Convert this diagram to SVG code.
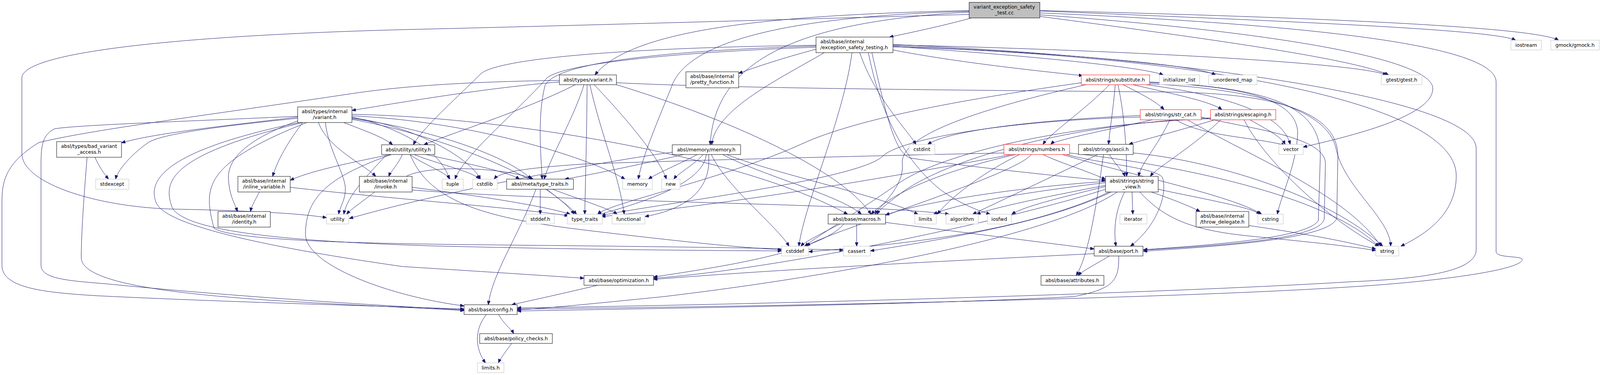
<svg xmlns="http://www.w3.org/2000/svg" width="4101" height="961" viewBox="0 0 4101 961">
<style>
rect{fill:#fff;stroke:#000;stroke-width:1}
rect.g{stroke:#bfbfbf}
rect.r{stroke:#ff0000}
rect.root{fill:#bfbfbf}
text{font-family:"DejaVu Sans","Liberation Sans",sans-serif;font-size:12.6px;fill:#000;text-anchor:middle}
text.l{text-anchor:start}
#edges path{fill:none;stroke:#191970;stroke-width:1;marker-end:url(#ah)}
</style>
<defs>
<marker id="ah" markerUnits="userSpaceOnUse" markerWidth="10" markerHeight="8" refX="10" refY="4" orient="auto">
<path d="M0,0 L10,4 L0,8 z" fill="#191970" stroke="#191970"/>
</marker>
</defs>
<rect x="0" y="0" width="4101" height="961" style="fill:#fff;stroke:none"/>
<g id="edges">
<path d="M2487,46 C2430,62 2340,82 2277,95"/>
<path d="M2481,27 C2000,38 1620,70 1523,192"/>
<path d="M2481,31 C2050,55 1830,150 1818,371"/>
<path d="M2481,29 C2000,42 1760,110 1720,220 C1680,320 1645,400 1634,459"/>
<path d="M2481,37 C2000,50 1500,65 1030,76 C500,90 56,130 56,200 L56,393 C56,470 250,532 450,536 C650,540 780,548 836,558"/>
<path d="M2662,38 C3250,80 3668,150 3668,227 C3668,300 3450,350 3336,377"/>
<path d="M2662,28 C3300,55 3820,75 3880,103"/>
<path d="M2662,27 C3400,45 3930,70 3990,103"/>
<path d="M2662,42 C3100,100 3460,150 3555,192"/>
<path d="M2662,33 C3400,65 3830,120 3830,210 L3830,645 C3830,662 3897,655 3897,665 C3897,690 3700,720 3460,735 C3000,765 2000,785 1324,792"/>
<path d="M2089,126 C2000,150 1940,170 1891,188"/>
<path d="M2110,135 C2000,200 1830,280 1822,371"/>
<path d="M2089,118 C1700,130 1420,160 1395,220 C1375,300 1385,400 1388,459"/>
<path d="M2089,116 C1600,122 1270,150 1230,190 C1170,250 1080,330 1058,371"/>
<path d="M2089,121 C1700,135 1440,165 1400,200 C1320,290 1185,400 1165,459"/>
<path d="M2181,135 C2160,300 2060,520 2045,631"/>
<path d="M2201,135 C2240,250 2320,330 2345,370"/>
<path d="M2223,135 C2260,320 2330,420 2400,480 C2450,520 2505,540 2535,549"/>
<path d="M2232,135 C2270,300 2290,390 2330,405 C2500,430 2700,450 2830,463"/>
<path d="M2286,128 C2450,160 2660,182 2772,194"/>
<path d="M2286,119 C2600,140 2920,170 2978,192"/>
<path d="M2286,117 C2700,135 3060,165 3112,192"/>
<path d="M2286,115 C2850,128 3470,160 3550,192"/>
<path d="M2286,120 C3000,140 3728,250 3728,450 C3728,550 3650,600 3586,631"/>
<path d="M2286,114 C3000,145 3779,250 3779,380 L3779,640 C3779,700 3620,715 3460,722 C3000,750 2000,780 1324,789"/>
<path d="M1432,210 C1250,225 1040,260 901,283"/>
<path d="M1473,217 C1350,280 1160,340 1085,371"/>
<path d="M1495,217 C1470,300 1410,400 1393,459"/>
<path d="M1503,217 C1502,350 1499,450 1497,549"/>
<path d="M1510,217 C1540,350 1585,450 1598,549"/>
<path d="M1521,217 C1600,300 1685,400 1706,459"/>
<path d="M1578,217 C1850,300 2150,430 2230,549"/>
<path d="M1578,212 C1900,228 2600,232 3000,236 C3300,240 3425,300 3425,400 L3422,560 C3400,615 3100,632 2927,644"/>
<path d="M1432,206 C1150,210 1000,225 900,240 C500,300 250,330 100,365 C10,420 5,470 5,520 L5,680 C5,740 120,750 250,758 C600,775 1000,785 1188,792"/>
<path d="M762,300 C600,320 400,340 311,366"/>
<path d="M762,303 C600,320 420,340 380,365 C330,400 300,440 296,459"/>
<path d="M775,314 C740,360 710,410 698,452"/>
<path d="M815,314 C840,380 930,420 962,452"/>
<path d="M880,314 C920,330 980,350 1005,371"/>
<path d="M762,310 C650,350 580,400 585,460 C587,500 600,520 608,542"/>
<path d="M833,314 C840,380 880,440 884,480 C886,510 870,530 867,549"/>
<path d="M901,300 C1000,320 1130,380 1150,459"/>
<path d="M901,302 C1050,320 1200,400 1230,459"/>
<path d="M901,304 C1100,330 1300,400 1360,459"/>
<path d="M901,306 C1100,340 1400,450 1470,549"/>
<path d="M901,297 C1200,310 1500,400 1600,459"/>
<path d="M901,293 C1300,300 1900,400 2170,549"/>
<path d="M766,314 C400,390 380,470 400,520 C430,590 800,650 1030,683 C1300,700 1450,710 1495,713"/>
<path d="M775,314 C420,400 420,470 440,530 C470,600 800,620 1100,630 C1500,640 1800,642 2001,643"/>
<path d="M785,314 C520,420 520,480 548,585 C600,620 1000,625 1300,628 C1700,632 2000,636 2159,641"/>
<path d="M762,298 C500,310 200,320 140,330 C110,345 105,370 105,420 L105,680 C105,720 200,720 300,730 C600,760 1000,785 1188,794"/>
<path d="M243,403 C255,430 270,450 278,459"/>
<path d="M223,403 C215,500 208,600 208,660 C208,720 400,750 700,770 C950,785 1100,790 1188,796"/>
<path d="M1000,396 C880,420 790,440 743,462"/>
<path d="M1030,396 C1020,420 1000,440 995,452"/>
<path d="M1050,396 C1080,420 1140,440 1152,459"/>
<path d="M1060,396 C1120,420 1210,440 1228,459"/>
<path d="M1090,396 C1200,420 1300,440 1330,459"/>
<path d="M990,396 C940,450 890,500 880,549"/>
<path d="M1002,396 C850,450 782,500 782,600 C782,680 1000,760 1188,784"/>
<path d="M1050,396 C1100,520 1250,560 1500,590 C1750,620 1900,635 2001,640"/>
<path d="M664,492 C655,510 645,525 641,542"/>
<path d="M743,480 C1000,510 1300,530 1455,553"/>
<path d="M959,492 C930,515 900,535 887,549"/>
<path d="M1055,480 C1250,505 1400,530 1460,549"/>
<path d="M1055,487 C1500,520 2200,520 2430,549"/>
<path d="M1040,452 C1100,420 1300,430 1365,459"/>
<path d="M1383,485 L1383,549"/>
<path d="M1400,485 C1430,510 1460,530 1476,549"/>
<path d="M1415,485 C1480,510 1560,535 1580,549"/>
<path d="M1372,485 C1330,600 1260,700 1250,781"/>
<path d="M1750,396 C1600,430 1500,450 1446,459"/>
<path d="M1785,396 C1740,420 1680,445 1660,459"/>
<path d="M1800,396 C1780,420 1735,445 1725,459"/>
<path d="M1808,396 C1800,480 1600,530 1530,551"/>
<path d="M1814,396 C1820,460 1790,530 1651,555"/>
<path d="M1821,396 C1860,480 1990,580 2020,631"/>
<path d="M1850,396 C1950,450 2150,500 2205,549"/>
<path d="M1860,396 C2000,450 2250,500 2350,549"/>
<path d="M1721,390 C1500,420 1100,500 894,560"/>
<path d="M2840,217 C2780,280 2690,340 2670,370"/>
<path d="M2855,217 C2850,280 2840,340 2838,370"/>
<path d="M2862,217 C2880,300 2885,400 2884,452"/>
<path d="M2875,217 C2920,240 2960,260 2980,281"/>
<path d="M2900,217 C3000,240 3100,260 3128,281"/>
<path d="M2935,217 C3100,240 3280,280 3303,370"/>
<path d="M2943,212 C3200,220 3320,260 3322,340 C3320,420 3280,500 3270,549"/>
<path d="M2943,215 C3250,230 3400,290 3420,380 C3440,480 3560,560 3560,631"/>
<path d="M2943,210 C3250,225 3380,270 3380,400 L3375,565 C3350,610 3100,628 2927,640"/>
<path d="M2768,212 C2500,250 2200,300 2050,370 C1850,460 1560,520 1530,549"/>
<path d="M2780,217 C2550,270 2300,340 2310,420 C2315,480 2250,530 2240,549"/>
<path d="M2950,307 C2800,340 2700,360 2690,370"/>
<path d="M2995,307 C2960,380 2920,420 2915,452"/>
<path d="M3010,307 C3080,350 3200,350 3290,372"/>
<path d="M3040,307 C3200,400 3450,500 3535,631"/>
<path d="M2919,296 C2600,310 2420,340 2375,370"/>
<path d="M2919,300 C2550,310 2300,360 2260,400 C2200,460 1700,520 1540,552"/>
<path d="M3075,300 C3200,330 3395,350 3393,420 L3390,560 C3385,615 3100,630 2927,641"/>
<path d="M3110,307 C3000,340 2920,360 2890,370"/>
<path d="M3125,307 C3050,380 2960,430 2945,452"/>
<path d="M3200,307 C3240,330 3280,350 3290,370"/>
<path d="M3185,307 C3230,400 3380,550 3530,631"/>
<path d="M3099,304 C2700,320 2400,400 2300,470 C2200,540 2100,600 2060,631"/>
<path d="M3099,302 C2700,320 2400,420 2300,500 C2260,530 2250,540 2245,549"/>
<path d="M2570,392 C2200,400 1800,410 1500,420 C1350,430 1280,440 1265,459"/>
<path d="M2600,396 C2450,430 2300,480 2230,549"/>
<path d="M2610,396 C2500,450 2420,520 2400,549"/>
<path d="M2670,396 C2720,420 2790,440 2830,460"/>
<path d="M2720,396 C2900,450 3150,500 3230,549"/>
<path d="M2738,392 C3000,420 3400,500 3530,632"/>
<path d="M2590,396 C2300,450 1900,520 1540,555"/>
<path d="M2640,396 C2600,450 2100,600 2065,631"/>
<path d="M2730,396 C2820,420 2960,430 2976,455 C2990,500 2960,580 2894,631"/>
<path d="M2810,396 C2700,450 2550,520 2490,549"/>
<path d="M2825,396 C2810,500 2790,650 2755,706"/>
<path d="M2840,396 C2855,420 2875,440 2880,452"/>
<path d="M2901,392 C3100,410 3400,500 3540,631"/>
<path d="M2830,475 C2700,500 2550,530 2500,549"/>
<path d="M2830,468 C2650,490 2450,520 2390,549"/>
<path d="M2830,465 C2600,480 2350,520 2267,551"/>
<path d="M2830,478 C2700,510 2620,530 2590,549"/>
<path d="M2845,492 C2700,560 2500,600 2228,643"/>
<path d="M2840,492 C2650,580 2400,620 2070,645"/>
<path d="M2830,485 C2600,560 2000,690 1673,713"/>
<path d="M2860,492 C2700,600 2200,700 1700,760 C1500,780 1400,790 1324,794"/>
<path d="M2898,492 L2900,549"/>
<path d="M2879,492 C2855,540 2850,590 2857,631"/>
<path d="M2947,492 C3000,510 3050,530 3072,542"/>
<path d="M2965,485 C3080,510 3200,530 3226,549"/>
<path d="M2918,492 C2980,560 3050,590 3200,605 C3350,620 3450,630 3522,642"/>
<path d="M3197,578 C3350,600 3450,620 3522,638"/>
<path d="M2150,574 C2100,600 2060,620 2050,631"/>
<path d="M2193,574 L2193,631"/>
<path d="M2267,570 C2500,600 2700,625 2801,638"/>
<path d="M2160,574 C2100,650 1800,690 1673,710"/>
<path d="M2840,656 C2800,680 2770,695 2760,706"/>
<path d="M2864,656 C2865,720 2850,740 2750,760 C2400,780 1700,790 1324,797"/>
<path d="M2801,650 C2400,670 2000,690 1673,716"/>
<path d="M1530,731 C1450,750 1360,770 1310,781"/>
<path d="M1276,806 C1290,830 1310,845 1315,855"/>
<path d="M1245,806 C1210,850 1220,900 1243,930"/>
<path d="M1310,880 C1295,900 1280,920 1276,930"/>
</g>
<g id="n1"><rect class="root" x="2481" y="6" width="181" height="40"/><text x="2571" y="22">variant_exception_safety</text><text x="2571" y="37">_test.cc</text></g>
<g id="n2"><rect x="2089" y="95" width="197" height="40"/><text class="l" x="2100" y="111">absl/base/internal</text><text class="l" x="2100" y="126">/exception_safety_testing.h</text></g>
<g id="n3"><rect x="1432" y="192" width="146" height="25"/><text x="1505" y="209">absl/types/variant.h</text></g>
<g id="n4"><rect x="1756" y="184" width="135" height="41"/><text x="1823" y="200">absl/base/internal</text><text x="1823" y="215">/pretty_function.h</text></g>
<g id="n5"><rect class="r" x="2768" y="192" width="175" height="25"/><text x="2855" y="209">absl/strings/substitute.h</text></g>
<g id="n6"><rect class="g" x="2968" y="192" width="103" height="25"/><text x="3019" y="209">initializer_list</text></g>
<g id="n7"><rect class="g" x="3094" y="192" width="124" height="25"/><text x="3156" y="209">unordered_map</text></g>
<g id="n8"><rect class="g" x="3536" y="192" width="104" height="25"/><text x="3588" y="209">gtest/gtest.h</text></g>
<g id="n9"><rect class="g" x="3868" y="103" width="78" height="25"/><text x="3907" y="120">iostream</text></g>
<g id="n10"><rect class="g" x="3970" y="103" width="124" height="25"/><text x="4032" y="120">gmock/gmock.h</text></g>
<g id="n11"><rect x="762" y="274" width="139" height="40"/><text x="831" y="290">absl/types/internal</text><text x="831" y="305">/variant.h</text></g>
<g id="n12"><rect class="r" x="2919" y="281" width="156" height="26"/><text x="2997" y="298">absl/strings/str_cat.h</text></g>
<g id="n13"><rect class="r" x="3099" y="281" width="167" height="26"/><text x="3182" y="298">absl/strings/escaping.h</text></g>
<g id="n14"><rect x="145" y="363" width="166" height="40"/><text x="228" y="379">absl/types/bad_variant</text><text x="228" y="394">_access.h</text></g>
<g id="n15"><rect x="977" y="371" width="136" height="25"/><text x="1045" y="388">absl/utility/utility.h</text></g>
<g id="n16"><rect x="1721" y="371" width="175" height="25"/><text x="1808" y="388">absl/memory/memory.h</text></g>
<g id="n17"><rect class="g" x="2327" y="370" width="66" height="26"/><text x="2360" y="387">cstdint</text></g>
<g id="n18"><rect class="r" x="2570" y="370" width="168" height="26"/><text x="2654" y="387">absl/strings/numbers.h</text></g>
<g id="n19"><rect x="2761" y="370" width="140" height="26"/><text x="2831" y="387">absl/strings/ascii.h</text></g>
<g id="n20"><rect class="g" x="3274" y="370" width="62" height="26"/><text x="3305" y="387">vector</text></g>
<g id="n21"><rect class="g" x="245" y="459" width="85" height="26"/><text x="287" y="476">stdexcept</text></g>
<g id="n22"><rect x="609" y="452" width="134" height="40"/><text x="676" y="468">absl/base/internal</text><text x="676" y="483">/inline_variable.h</text></g>
<g id="n23"><rect x="920" y="452" width="135" height="40"/><text x="987" y="468">absl/base/internal</text><text x="987" y="483">/invoke.h</text></g>
<g id="n24"><rect class="g" x="1132" y="459" width="54" height="26"/><text x="1159" y="476">tuple</text></g>
<g id="n25"><rect class="g" x="1210" y="459" width="63" height="26"/><text x="1241" y="476">cstdlib</text></g>
<g id="n26"><rect x="1297" y="459" width="171" height="26"/><text x="1382" y="476">absl/meta/type_traits.h</text></g>
<g id="n27"><rect class="g" x="1594" y="459" width="76" height="26"/><text x="1632" y="476">memory</text></g>
<g id="n28"><rect class="g" x="1694" y="459" width="47" height="26"/><text x="1717" y="476">new</text></g>
<g id="n29"><rect x="2830" y="452" width="135" height="40"/><text x="2897" y="468">absl/strings/string</text><text x="2897" y="483">_view.h</text></g>
<g id="n30"><rect x="558" y="542" width="134" height="40"/><text x="625" y="558">absl/base/internal</text><text x="625" y="573">/identity.h</text></g>
<g id="n31"><rect class="g" x="836" y="549" width="56" height="25"/><text x="864" y="566">utility</text></g>
<g id="n32"><rect class="g" x="1347" y="549" width="72" height="25"/><text x="1383" y="566">stddef.h</text></g>
<g id="n33"><rect class="g" x="1452" y="549" width="90" height="25"/><text x="1497" y="566">type_traits</text></g>
<g id="n34"><rect class="g" x="1567" y="549" width="84" height="25"/><text x="1609" y="566">functional</text></g>
<g id="n35"><rect x="2120" y="549" width="147" height="25"/><text x="2193" y="566">absl/base/macros.h</text></g>
<g id="n36"><rect class="g" x="2342" y="549" width="55" height="25"/><text x="2369" y="566">limits</text></g>
<g id="n37"><rect class="g" x="2422" y="549" width="82" height="25"/><text x="2463" y="566">algorithm</text></g>
<g id="n38"><rect class="g" x="2528" y="549" width="61" height="25"/><text x="2558" y="566">iosfwd</text></g>
<g id="n39"><rect class="g" x="2867" y="549" width="69" height="25"/><text x="2901" y="566">iterator</text></g>
<g id="n40"><rect x="3062" y="542" width="135" height="40"/><text x="3129" y="558">absl/base/internal</text><text x="3129" y="573">/throw_delegate.h</text></g>
<g id="n41"><rect class="g" x="3220" y="549" width="65" height="25"/><text x="3252" y="566">cstring</text></g>
<g id="n42"><rect class="g" x="2001" y="631" width="69" height="25"/><text x="2035" y="648">cstddef</text></g>
<g id="n43"><rect class="g" x="2159" y="631" width="69" height="25"/><text x="2193" y="648">cassert</text></g>
<g id="n44"><rect x="2801" y="631" width="125" height="25"/><text x="2863" y="648">absl/base/port.h</text></g>
<g id="n45"><rect class="g" x="3522" y="631" width="59" height="25"/><text x="3551" y="648">string</text></g>
<g id="n46"><rect x="1495" y="706" width="178" height="25"/><text x="1584" y="723">absl/base/optimization.h</text></g>
<g id="n47"><rect x="2665" y="706" width="161" height="25"/><text x="2745" y="723">absl/base/attributes.h</text></g>
<g id="n48"><rect x="1188" y="781" width="136" height="25"/><text x="1256" y="798">absl/base/config.h</text></g>
<g id="n49"><rect x="1228" y="855" width="186" height="25"/><text x="1321" y="872">absl/base/policy_checks.h</text></g>
<g id="n50"><rect class="g" x="1222" y="930" width="68" height="25"/><text x="1256" y="947">limits.h</text></g>
</svg>
